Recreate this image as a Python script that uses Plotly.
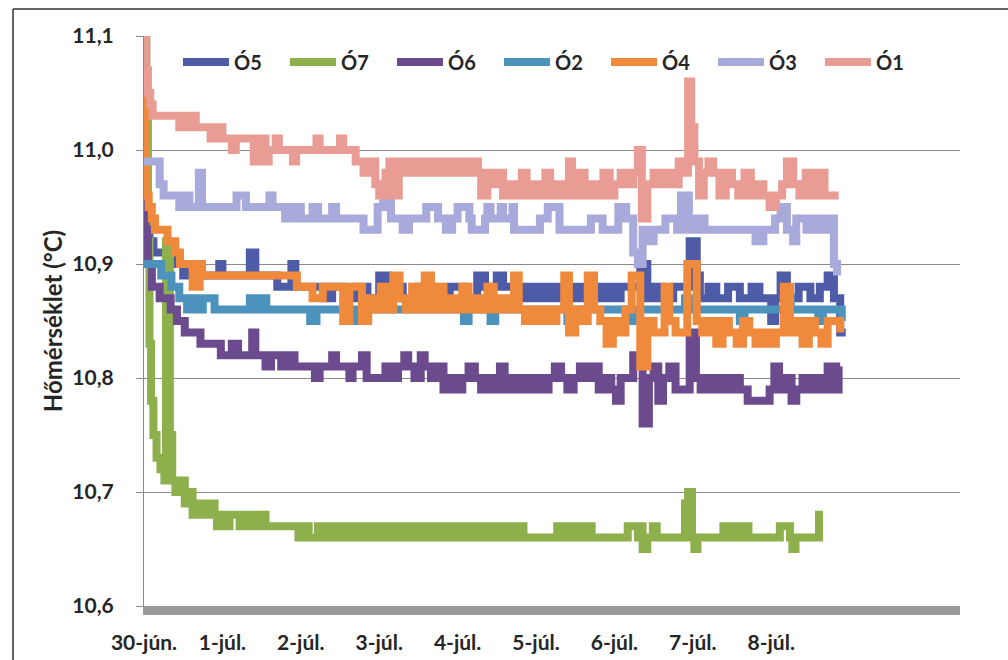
import plotly.graph_objects as go

# ---- data (time in days since 30-jún. 00:00, temperature in °C) ----
O5 = [(0.00,10.95),(0.03,10.93),(0.07,10.92),(0.12,10.91),(0.37,10.90),(0.50,10.89),(0.56,10.90),(0.72,10.89),
      (0.96,10.90),(1.00,10.89),(1.35,10.91),(1.42,10.89),(1.70,10.88),(1.88,10.90),(1.93,10.88),(2.30,10.87),
      (2.40,10.88),(2.55,10.87),(2.70,10.88),(2.85,10.87),(3.00,10.89),(3.10,10.88),(3.30,10.87),(3.50,10.88),
      (3.70,10.87),(3.90,10.88),(4.10,10.87),(4.25,10.89),(4.35,10.88),(4.50,10.89),(4.58,10.88),(4.72,10.87),
      (4.80,10.88),(4.88,10.87),(4.96,10.88),(5.04,10.87),(5.12,10.88),(5.20,10.87),(5.28,10.88),(5.36,10.87),
      (5.44,10.88),(5.52,10.87),(5.60,10.88),(5.68,10.87),(5.76,10.88),(5.84,10.87),(5.92,10.88),(6.00,10.87),
      (6.08,10.88),(6.33,10.90),(6.42,10.87),(6.50,10.88),(6.60,10.87),(6.75,10.88),(6.96,10.92),(7.05,10.89),
      (7.09,10.87),(7.20,10.88),(7.30,10.87),(7.45,10.88),(7.60,10.87),(7.75,10.88),(7.85,10.87),(8.00,10.85),
      (8.05,10.87),(8.12,10.89),(8.20,10.87),(8.35,10.88),(8.50,10.87),(8.62,10.88),(8.72,10.89),(8.80,10.87),
      (8.88,10.84),(8.95,10.84)]

O7 = [(0.00,11.12),(0.03,11.05),(0.05,10.92),(0.07,10.83),(0.09,10.78),(0.12,10.75),(0.16,10.73),(0.21,10.72),
      (0.26,10.71),(0.28,10.92),(0.31,10.91),(0.33,10.75),(0.36,10.71),(0.40,10.70),(0.48,10.71),(0.52,10.69),
      (0.58,10.70),(0.62,10.68),(0.70,10.69),(0.78,10.68),(0.84,10.69),(0.90,10.68),(0.93,10.67),(0.99,10.68),
      (1.05,10.67),(1.09,10.68),(1.22,10.67),(1.30,10.68),(1.36,10.67),(1.45,10.68),(1.55,10.67),(1.97,10.66),
      (2.05,10.67),(2.10,10.66),(2.22,10.67),(2.28,10.66),(2.36,10.67),(2.44,10.66),(2.52,10.67),(2.60,10.66),
      (2.68,10.67),(2.76,10.66),(2.84,10.67),(2.92,10.66),(3.00,10.67),(3.08,10.66),(3.16,10.67),(3.24,10.66),
      (3.32,10.67),(3.40,10.66),(3.48,10.67),(3.56,10.66),(3.64,10.67),(3.72,10.66),(3.80,10.67),(3.88,10.66),
      (3.96,10.67),(4.04,10.66),(4.12,10.67),(4.20,10.66),(4.28,10.67),(4.36,10.66),(4.44,10.67),(4.52,10.66),
      (4.60,10.67),(4.68,10.66),(4.76,10.67),(4.84,10.66),(5.27,10.67),(5.34,10.66),(5.40,10.67),(5.47,10.66),
      (5.56,10.67),(5.62,10.66),(5.66,10.67),(5.71,10.66),(6.17,10.67),(6.30,10.66),(6.34,10.67),(6.36,10.65),
      (6.42,10.66),(6.49,10.67),(6.54,10.66),(6.90,10.69),(6.94,10.70),(6.99,10.66),(7.02,10.65),(7.06,10.66),
      (7.39,10.67),(7.46,10.66),(7.52,10.67),(7.60,10.66),(7.68,10.67),(7.71,10.66),(8.11,10.67),(8.24,10.66),
      (8.27,10.65),(8.31,10.66),(8.61,10.68),(8.66,10.68)]

O6 = [(0.00,10.96),(0.02,10.93),(0.05,10.90),(0.10,10.88),(0.20,10.87),(0.34,10.86),(0.42,10.85),(0.52,10.84),
      (0.72,10.83),(0.98,10.82),(1.12,10.83),(1.20,10.82),(1.38,10.84),(1.42,10.82),(1.55,10.81),(1.62,10.82),
      (1.75,10.81),(1.82,10.82),(1.92,10.81),(2.18,10.80),(2.24,10.81),(2.40,10.82),(2.45,10.81),(2.62,10.80),
      (2.66,10.81),(2.78,10.82),(2.84,10.80),(3.08,10.81),(3.16,10.80),(3.24,10.81),(3.32,10.82),(3.37,10.81),
      (3.45,10.80),(3.53,10.82),(3.58,10.81),(3.66,10.80),(3.74,10.81),(3.82,10.79),(3.90,10.80),(3.98,10.79),
      (4.06,10.80),(4.14,10.81),(4.22,10.80),(4.30,10.79),(4.38,10.80),(4.46,10.79),(4.54,10.81),(4.60,10.79),
      (4.68,10.80),(4.76,10.79),(4.84,10.80),(4.92,10.79),(5.00,10.80),(5.08,10.79),(5.16,10.80),(5.24,10.81),
      (5.32,10.80),(5.40,10.79),(5.48,10.80),(5.56,10.81),(5.64,10.80),(5.72,10.81),(5.80,10.79),(5.88,10.80),
      (5.96,10.79),(6.02,10.78),(6.08,10.80),(6.24,10.82),(6.36,10.76),(6.44,10.80),(6.50,10.81),(6.56,10.78),
      (6.62,10.80),(6.70,10.81),(6.78,10.79),(6.96,10.84),(7.04,10.80),(7.10,10.79),(7.18,10.80),(7.26,10.79),
      (7.34,10.80),(7.42,10.79),(7.50,10.80),(7.60,10.79),(7.70,10.78),(7.98,10.79),(8.04,10.81),(8.10,10.79),
      (8.18,10.80),(8.26,10.78),(8.32,10.79),(8.40,10.80),(8.48,10.79),(8.56,10.80),(8.64,10.79),(8.72,10.81),
      (8.80,10.79),(8.86,10.81),(8.88,10.81)]

O2 = [(0.00,10.90),(0.22,10.89),(0.35,10.88),(0.45,10.87),(0.55,10.86),(0.62,10.87),(0.70,10.86),(0.75,10.87),
      (0.90,10.86),(1.35,10.87),(1.40,10.86),(1.50,10.87),(1.56,10.86),(2.12,10.85),(2.20,10.86),(2.65,10.85),
      (2.73,10.86),(4.08,10.85),(4.14,10.86),(4.42,10.85),(4.48,10.86),(5.40,10.85),(5.45,10.86),(6.20,10.85),
      (6.28,10.86),(6.90,10.87),(6.95,10.86),(7.60,10.85),(7.66,10.86),(8.20,10.87),(8.25,10.86),(8.60,10.85),
      (8.66,10.86),(8.90,10.85)]

O4 = [(0.00,11.10),(0.015,10.98),(0.03,10.96),(0.06,10.95),(0.10,10.94),(0.14,10.93),(0.30,10.92),(0.40,10.91),
      (0.46,10.90),(0.62,10.88),(0.71,10.90),(0.74,10.89),(1.95,10.88),(2.15,10.87),(2.28,10.88),(2.54,10.85),
      (2.62,10.88),(2.78,10.85),(2.86,10.87),(2.94,10.86),(3.02,10.88),(3.10,10.86),(3.18,10.89),(3.26,10.87),
      (3.34,10.86),(3.42,10.88),(3.50,10.86),(3.58,10.89),(3.66,10.86),(3.74,10.88),(3.82,10.86),(3.90,10.87),
      (3.98,10.86),(4.06,10.88),(4.14,10.86),(4.22,10.87),(4.30,10.86),(4.38,10.88),(4.46,10.86),(4.54,10.87),
      (4.62,10.86),(4.72,10.89),(4.78,10.86),(4.86,10.85),(4.94,10.86),(5.02,10.85),(5.10,10.86),(5.18,10.85),
      (5.26,10.86),(5.36,10.89),(5.42,10.84),(5.50,10.86),(5.58,10.85),(5.66,10.89),(5.74,10.86),(5.82,10.85),
      (5.90,10.83),(5.98,10.85),(6.06,10.84),(6.14,10.86),(6.22,10.89),(6.33,10.81),(6.42,10.85),(6.50,10.84),
      (6.64,10.88),(6.70,10.85),(6.78,10.84),(6.93,10.90),(7.05,10.85),(7.12,10.84),(7.20,10.85),(7.30,10.83),
      (7.38,10.85),(7.46,10.84),(7.56,10.83),(7.64,10.85),(7.72,10.84),(7.80,10.83),(7.90,10.84),(7.98,10.83),
      (8.06,10.84),(8.16,10.88),(8.24,10.84),(8.32,10.85),(8.40,10.83),(8.48,10.85),(8.56,10.84),(8.64,10.83),
      (8.72,10.85),(8.88,10.84)]

O3 = [(0.00,10.99),(0.20,10.97),(0.25,10.96),(0.45,10.95),(0.55,10.96),(0.58,10.95),(0.70,10.98),(0.74,10.95),
      (1.18,10.96),(1.30,10.95),(1.60,10.96),(1.64,10.95),(1.80,10.94),(1.90,10.95),(2.00,10.94),(2.15,10.95),
      (2.22,10.94),(2.40,10.95),(2.45,10.94),(2.80,10.93),(2.98,10.95),(3.05,10.96),(3.15,10.94),(3.30,10.93),
      (3.38,10.94),(3.60,10.95),(3.75,10.94),(3.85,10.93),(3.93,10.94),(4.00,10.95),(4.15,10.94),(4.18,10.93),
      (4.35,10.94),(4.38,10.95),(4.42,10.94),(4.55,10.95),(4.58,10.94),(4.70,10.95),(4.72,10.93),(5.05,10.94),
      (5.15,10.95),(5.30,10.93),(5.70,10.94),(5.85,10.93),(6.05,10.95),(6.15,10.94),(6.24,10.91),(6.30,10.90),
      (6.36,10.93),(6.45,10.92),(6.50,10.93),(6.65,10.94),(6.80,10.93),(6.85,10.96),(6.95,10.93),(7.05,10.94),
      (7.15,10.93),(7.80,10.92),(7.90,10.93),(8.05,10.94),(8.12,10.95),(8.20,10.93),(8.28,10.92),(8.32,10.94),
      (8.45,10.93),(8.55,10.94),(8.65,10.93),(8.72,10.94),(8.80,10.90),(8.84,10.89)]

O1 = [(0.00,11.13),(0.02,11.07),(0.05,11.05),(0.08,11.04),(0.11,11.03),(0.45,11.02),(0.50,11.03),(0.55,11.02),
      (0.62,11.03),(0.66,11.02),(0.85,11.01),(0.95,11.02),(1.00,11.01),(1.12,11.00),(1.17,11.01),(1.40,10.99),
      (1.45,11.01),(1.55,10.99),(1.59,11.00),(1.68,11.01),(1.72,11.00),(1.90,10.99),(1.94,11.00),(2.20,11.01),
      (2.24,11.00),(2.50,11.01),(2.54,11.00),(2.70,10.99),(2.80,10.98),(2.90,10.99),(2.95,10.97),(3.00,10.96),
      (3.08,10.98),(3.13,10.99),(3.18,10.96),(3.25,10.99),(3.32,10.98),(3.40,10.99),(3.48,10.98),(3.55,10.99),
      (3.62,10.98),(3.70,10.99),(3.78,10.98),(3.86,10.99),(3.94,10.98),(4.02,10.99),(4.10,10.98),(4.18,10.99),
      (4.26,10.98),(4.30,10.96),(4.38,10.98),(4.45,10.97),(4.52,10.98),(4.58,10.96),(4.66,10.97),(4.74,10.96),
      (4.82,10.98),(4.88,10.96),(4.96,10.97),(5.04,10.96),(5.12,10.98),(5.18,10.96),(5.26,10.97),(5.34,10.96),
      (5.42,10.99),(5.46,10.96),(5.54,10.98),(5.62,10.96),(5.70,10.97),(5.78,10.96),(5.86,10.98),(5.94,10.96),
      (6.00,10.97),(6.08,10.98),(6.16,10.97),(6.24,10.98),(6.30,11.00),(6.35,10.94),(6.42,10.97),(6.50,10.98),
      (6.58,10.97),(6.66,10.98),(6.74,10.97),(6.82,10.99),(6.88,10.98),(6.94,11.06),(6.98,11.02),(7.02,10.99),
      (7.08,10.96),(7.14,10.98),(7.20,10.99),(7.26,10.98),(7.34,10.96),(7.42,10.98),(7.50,10.97),(7.58,10.96),
      (7.66,10.98),(7.74,10.96),(7.82,10.97),(7.90,10.96),(7.98,10.95),(8.06,10.96),(8.14,10.97),(8.20,10.99),
      (8.28,10.97),(8.36,10.96),(8.44,10.98),(8.52,10.96),(8.60,10.98),(8.68,10.96),(8.86,10.96)]

SERIES = [("Ó5", O5), ("Ó7", O7), ("Ó6", O6), ("Ó2", O2), ("Ó4", O4), ("Ó3", O3), ("Ó1", O1)]
COLORS = {"Ó5": "#4E5BA6", "Ó7": "#8DB04C", "Ó6": "#6B4B8D", "Ó2": "#4B93BD",
          "Ó4": "#EF8A3D", "Ó3": "#A7AADA", "Ó1": "#E99C93"}

TICK_DAYS = [0, 1, 2, 3, 4, 5, 6, 7, 8]
TICK_LABELS = ["30-jún.", "1-júl.", "2-júl.", "3-júl.", "4-júl.", "5-júl.", "6-júl.", "7-júl.", "8-júl."]
Y_TICKS = [10.6, 10.7, 10.8, 10.9, 11.0, 11.1]
Y_LABELS = ["10,6", "10,7", "10,8", "10,9", "11,0", "11,1"]

FONT = "Lato"
TXT = "#262626"

fig = go.Figure()
for name, pts in SERIES:
    fig.add_trace(go.Scatter(
        x=[p[0] for p in pts], y=[p[1] for p in pts], name=name, mode="lines",
        line=dict(color=COLORS[name], width=8, shape="hv"),
    ))

W, H = 1008, 660
L, R, T, B = 144, 48, 36, 54
PW, PH = W - L - R, H - T - B
fig.update_layout(
    width=W, height=H,
    margin=dict(l=L, r=R, t=T, b=B, autoexpand=False),
    paper_bgcolor="white", plot_bgcolor="white",
    showlegend=True,
    legend=dict(orientation="h", x=(178 - L) / PW, y=1 - (62 - T) / PH,
                xanchor="left", yanchor="middle", entrywidth=46, entrywidthmode="pixels",
                itemwidth=46,
                font=dict(family=FONT, size=20, color=TXT, weight="bold"),
                bgcolor="rgba(0,0,0,0)", traceorder="normal", itemclick=False),
    xaxis=dict(range=[0, PW / 78.4], tickvals=TICK_DAYS, ticktext=TICK_LABELS,
               showgrid=False, zeroline=False, showline=True, linecolor="#9A9A9A", linewidth=9,
               ticks="", tickfont=dict(family=FONT, size=21, color=TXT, weight="bold"),
               ticklabelstandoff=10, automargin=False, fixedrange=True),
    yaxis=dict(range=[10.6, 11.1], tickvals=Y_TICKS, ticktext=Y_LABELS,
               showgrid=True, gridcolor="#8A8A8A", gridwidth=1, zeroline=False,
               showline=True, linecolor="#8A8A8A", linewidth=1,
               ticks="outside", ticklen=7, tickcolor="#8A8A8A",
               tickfont=dict(family=FONT, size=21, color=TXT, weight="bold"),
               ticklabelstandoff=18, automargin=False,
               title=dict(text="Hőmérséklet (°C)", standoff=2,
                          font=dict(family=FONT, size=24, color=TXT, weight="bold")),
               fixedrange=True),
    shapes=[
        dict(type="line", xref="paper", yref="paper",
             x0=(13 - L) / PW, x1=(1008 - L) / PW,
             y0=1 + (T - 9) / PH, y1=1 + (T - 9) / PH,
             line=dict(color="#333333", width=1.5)),
        dict(type="line", xref="paper", yref="paper",
             x0=(13 - L) / PW, x1=(13 - L) / PW,
             y0=1 + (T - 9) / PH, y1=-(B + 5) / PH,
             line=dict(color="#333333", width=1.5)),
    ],
)
fig.write_html("out.html")
